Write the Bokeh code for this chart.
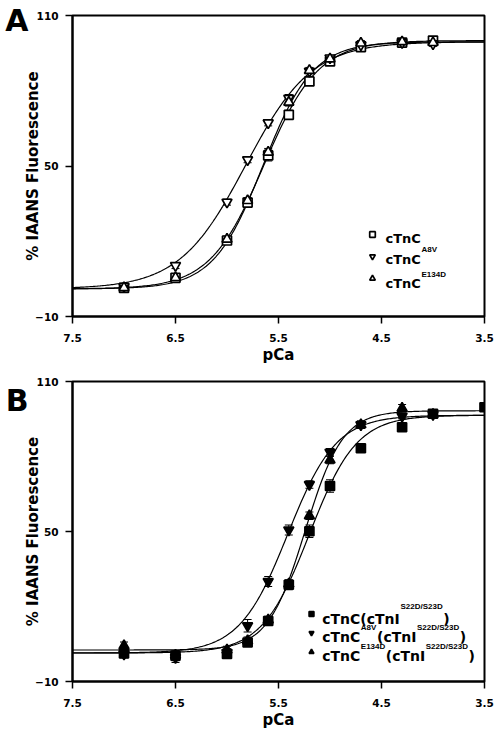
import numpy as np
from bokeh.plotting import figure
from bokeh.models import (ColumnDataSource, Range1d, FixedTicker, Whisker, TeeHead,
                          Label, Legend, LegendItem, LinearAxis)
from bokeh.core.properties import value
from bokeh.layouts import column
from bokeh.embed import file_html
from bokeh.resources import INLINE

# ---------------- data: panel A ----------------
pca_a = [7.0, 6.5, 6.0, 5.8, 5.6, 5.4, 5.2, 5.0, 4.7, 4.3, 4.0]
a_ctnc = [1.4, 5.4, 20.3, 35.4, 54.2, 70.4, 83.7, 91.7, 97.4, 99.2, 100.0]
a_ctnc_err = [1.2, 1.2, 1.2, 1.5, 2.2, 1.8, 1.5, 1.2, 1.0, 1.0, 1.0]
a_a8v = [2.0, 10.3, 35.6, 52.5, 67.2, 77.0, 87.8, 93.1, 98.3, 99.2, 98.7]
a_a8v_err = [1.0, 1.2, 1.2, 1.2, 1.2, 1.5, 1.0, 1.0, 1.0, 1.0, 1.0]
a_e134d = [1.5, 5.5, 20.8, 36.2, 55.5, 75.4, 88.1, 92.7, 99.0, 99.5, 99.2]
a_e134d_err = [1.0, 1.0, 1.2, 1.2, 1.5, 1.5, 1.2, 1.0, 1.0, 1.0, 1.0]

# Hill fit parameters
a_fit_pca50 = [5.64, 5.82, 5.65]
a_fit_hill = [1.65, 1.35, 1.8]
a_fit_min = [1.0, 1.0, 1.0]
a_fit_max = [100.0, 99.5, 99.5]

# ---------------- data: panel B ----------------
pca_b_ctnc = [7.0, 6.5, 6.0, 5.8, 5.6, 5.4, 5.2, 5.0, 4.7, 4.3, 4.0, 3.5]
b_ctnc = [1.2, 0.3, 1.0, 5.6, 14.2, 28.7, 50.1, 68.2, 83.3, 91.7, 97.1, 99.7]
b_ctnc_err = [1.5, 2.0, 1.5, 1.5, 1.5, 2.0, 2.5, 2.5, 1.5, 1.5, 1.0, 1.0]
pca_b_mut = [7.0, 6.5, 6.0, 5.8, 5.6, 5.4, 5.2, 5.0, 4.7, 4.3, 4.0]
b_a8v = [1.0, -0.4, 1.6, 12.3, 30.0, 50.6, 68.8, 81.7, 92.7, 96.1, 96.8]
b_a8v_err = [1.5, 2.0, 1.5, 2.5, 2.0, 2.0, 1.5, 1.5, 1.5, 1.0, 1.0]
b_e134d = [4.3, 0.5, 2.6, 6.3, 14.6, 29.0, 56.3, 78.6, 92.7, 99.3, 96.8]
b_e134d_err = [1.5, 1.5, 1.5, 1.5, 1.5, 1.5, 1.5, 1.5, 1.5, 1.5, 1.0]

b_fit_pca50 = [5.20, 5.41, 5.24]
b_fit_hill = [1.9, 1.85, 2.4]
b_fit_min = [1.4, 1.4, 2.6]
b_fit_max = [96.5, 96.5, 98.3]

x_ticks = [7.5, 6.5, 5.5, 4.5, 3.5]
y_ticks = [-10, 50, 110]

FONT = "DejaVu Sans"
SUPFONT = "Liberation Sans"


def hill(pca, p50, n, lo, hi):
    return lo + (hi - lo) / (1.0 + 10.0 ** (n * (pca - p50)))


def make_fig(height, border_top, border_bottom):
    p = figure(width=497, height=height, output_backend="svg", toolbar_location=None,
               x_range=Range1d(7.5, 3.5), y_range=Range1d(-10, 110),
               min_border_left=72, min_border_right=13,
               min_border_top=border_top, min_border_bottom=border_bottom)
    p.grid.visible = False
    p.outline_line_color = "black"
    p.outline_line_width = 2
    p.background_fill_color = "white"
    for ax in (p.xaxis[0], p.yaxis[0]):
        ax.axis_line_width = 2
        ax.axis_line_color = "black"
        ax.major_tick_line_width = 1.5
        ax.major_tick_line_color = "black"
        ax.major_tick_out = 7
        ax.major_tick_in = 0
        ax.minor_tick_line_color = None
        ax.major_label_text_font = FONT
        ax.major_label_text_font_style = "bold"
        ax.major_label_text_font_size = "10.5px"
        ax.major_label_text_color = "black"
        ax.axis_label_text_font = FONT
        ax.axis_label_text_font_style = "bold"
        ax.axis_label_text_font_size = "15px"
        ax.axis_label_text_color = "black"
    p.xaxis.ticker = FixedTicker(ticks=x_ticks)
    p.yaxis.ticker = FixedTicker(ticks=y_ticks)
    p.xaxis.axis_label = "pCa"
    p.yaxis.axis_label = "% IAANS Fluorescence"
    p.xaxis.major_label_standoff = 10
    p.xaxis.axis_label_standoff = 1
    p.yaxis.major_label_standoff = 7
    p.yaxis.axis_label_standoff = -10
    return p


def panel_letter(p, letter, at):
    # the panel letter is drawn as the only label of a bare extra axis, outside the frame
    ax = LinearAxis(ticker=FixedTicker(ticks=[at]), major_label_overrides={at: letter},
                    axis_line_color=None, major_tick_line_color=None,
                    minor_tick_line_color=None, major_tick_out=0, major_tick_in=0,
                    major_label_standoff=-7, major_label_text_font=FONT,
                    major_label_text_font_style="bold", major_label_text_font_size="30px",
                    major_label_text_color="black")
    p.add_layout(ax, "left")


def add_series(p, xs, ys, errs, marker, filled):
    lo = [y - e for y, e in zip(ys, errs)]
    hi = [y + e for y, e in zip(ys, errs)]
    src = ColumnDataSource(dict(x=xs, y=ys, lo=lo, hi=hi))
    w = Whisker(base="x", lower="lo", upper="hi", source=src, line_width=1, line_color="black",
                upper_head=TeeHead(size=8, line_width=1, line_color="black"),
                lower_head=TeeHead(size=8, line_width=1, line_color="black"))
    p.add_layout(w)
    size = 9 if marker == "square" else 10
    r = p.scatter("x", "y", source=src, marker=marker, size=size,
                  line_color="black", line_width=1.7,
                  fill_color="black" if filled else "white")
    return r


def add_fits(p, p50s, ns, los, his):
    grid = np.linspace(7.5, 3.5, 300)
    for p50, n, lo, hi in zip(p50s, ns, los, his):
        p.line(grid, hill(grid, p50, n, lo, hi), line_color="black", line_width=1.2)


def lab(p, x, y, text, size, font=FONT):
    p.add_layout(Label(x=x, y=y, x_units="screen", y_units="screen", text=text,
                       text_font=font, text_font_style="bold", text_font_size=size,
                       text_baseline="alphabetic", text_align="left", text_color="black"))


def symbol_legend(p, renderers, loc, gw, gh):
    leg = Legend(items=[LegendItem(label=value(""), renderers=[r]) for r in renderers],
                 location=loc, glyph_width=gw, glyph_height=gh, label_height=gh,
                 label_width=0, spacing=0, padding=0, margin=0, label_standoff=0,
                 border_line_alpha=0, background_fill_alpha=0)
    p.add_layout(leg)


# ---------------- panel A ----------------
pA = make_fig(373, 15, 57)
add_fits(pA, a_fit_pca50, a_fit_hill, a_fit_min, a_fit_max)
rA1 = add_series(pA, pca_a, a_ctnc, a_ctnc_err, "square", False)
rA2 = add_series(pA, pca_a, a_a8v, a_a8v_err, "inverted_triangle", False)
rA3 = add_series(pA, pca_a, a_e134d, a_e134d_err, "triangle", False)
symbol_legend(pA, [rA1, rA2, rA3], (293, 27), 14, 22)

lab(pA, 313, 77.7, "cTnC", "13px")
lab(pA, 313, 56.7, "cTnC", "13px")
lab(pA, 349, 66.7, "A8V", "8px", SUPFONT)
lab(pA, 313, 32.7, "cTnC", "13px")
lab(pA, 349, 41.7, "E134D", "8px", SUPFONT)
panel_letter(pA, "A", 108.0)

# ---------------- panel B ----------------
pB = make_fig(360, 8, 52)
add_fits(pB, b_fit_pca50, b_fit_hill, b_fit_min, b_fit_max)
rB1 = add_series(pB, pca_b_ctnc, b_ctnc, b_ctnc_err, "square", True)
rB2 = add_series(pB, pca_b_mut, b_a8v, b_a8v_err, "inverted_triangle", True)
rB3 = add_series(pB, pca_b_mut, b_e134d, b_e134d_err, "triangle", True)
symbol_legend(pB, [rB1, rB2, rB3], (233, 20), 12, 19)

# row 1
lab(pB, 249.7, 63, "cTnC(cTnI", "14px")
lab(pB, 328, 74.7, "S22D/S23D", "8px", SUPFONT)
lab(pB, 370.7, 63, ")", "14px")
# row 2
lab(pB, 249.7, 44.7, "cTnC", "14px")
lab(pB, 288.3, 53.7, "A8V", "8px", SUPFONT)
lab(pB, 304.5, 44.7, "(cTnI", "14px")
lab(pB, 344.5, 53.7, "S22D/S23D", "8px", SUPFONT)
lab(pB, 387.2, 44.7, ")", "14px")
# row 3
lab(pB, 249.7, 26, "cTnC", "14px")
lab(pB, 288.3, 35, "E134D", "8px", SUPFONT)
lab(pB, 313.3, 26, "(cTnI", "14px")
lab(pB, 353.2, 35, "S22D/S23D", "8px", SUPFONT)
lab(pB, 395.9, 26, ")", "14px")
panel_letter(pB, "B", 110.0)

layout = column(pA, pB, spacing=0)
open("out.html", "w").write(file_html(layout, INLINE))
